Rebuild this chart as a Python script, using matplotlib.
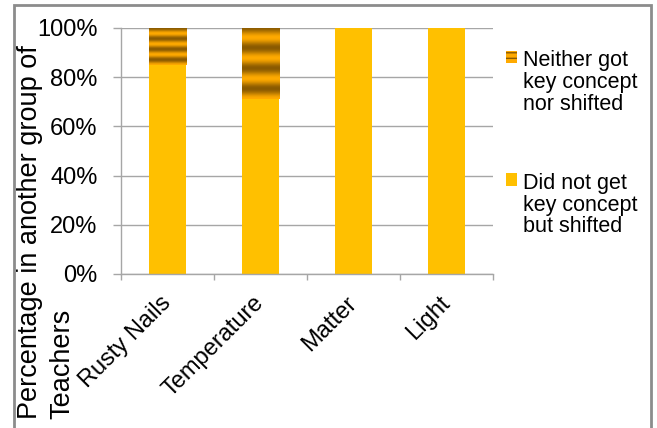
import numpy as np
import matplotlib
matplotlib.use('Agg')
import matplotlib.pyplot as plt
from matplotlib.patches import Patch, Rectangle
from matplotlib.colors import LinearSegmentedColormap
from matplotlib.legend_handler import HandlerPatch

# data (percent of teachers)
topics = ['Rusty Nails', 'Temperature', 'Matter', 'Light']
shifted = [85, 71, 100, 100]        # Did not get key concept but shifted
neither = [15, 29, 0, 0]            # Neither got key concept nor shifted
yticks = [0, 20, 40, 60, 80, 100]
seriesNames = ['Neither got\nkey concept\nnor shifted', 'Did not get\nkey concept\nbut shifted']
ylabelLines = ['Percentage in another group of', 'Teachers']

YELLOW = '#FFC000'
DARK = '#8A5A00'
ORANGE = '#FFAA00'
GREY = '#A6A6A6'
FONT = 17

plt.rcParams['font.family'] = ['Liberation Sans', 'DejaVu Sans']


def stripeFill(ax, rects, cycles=3.5):
    """ Paint the banded brown/orange gradient inside each bar rectangle """
    cmap = LinearSegmentedColormap.from_list('band', [ORANGE, DARK])
    t = np.linspace(0, 1, 200)
    band = (0.5 + 0.5 * np.cos(2 * np.pi * cycles * t))[:, None]
    for r in rects:
        if r.get_height() <= 0:
            continue
        x0, y0 = r.get_x(), r.get_y()
        im = ax.imshow(band, cmap=cmap, vmin=0, vmax=1, aspect='auto',
                       extent=(x0, x0 + r.get_width(), y0, y0 + r.get_height()),
                       origin='upper', interpolation='bilinear', zorder=3)
        im.set_clip_path(r)


class TopHandler(HandlerPatch):
    # put the legend square next to the first line of a 3 line label
    def __init__(self, shift, **kw):
        super().__init__(**kw)
        self.shift = shift

    def create_artists(self, legend, orig_handle, xdescent, ydescent,
                       width, height, fontsize, trans):
        p = Rectangle((-xdescent, -ydescent + self.shift * fontsize), width, height)
        self.update_prop(p, orig_handle, legend)
        p.set_transform(trans)
        return [p]


fig = plt.figure(figsize=(6.57, 4.28), dpi=100)
W, H = 657, 428
ax = fig.add_axes([121 / W, 1 - 274 / H, (493 - 121) / W, (274 - 28) / H])

x = np.arange(len(topics))
bars1 = ax.bar(x, shifted, width=0.4, color=YELLOW, zorder=2)
bars2 = ax.bar(x, neither, width=0.4, bottom=shifted, color=ORANGE, zorder=2)
stripeFill(ax, bars2)

ax.set_xlim(-0.5, len(topics) - 0.5)
ax.set_ylim(0, 100)
ax.set_yticks(yticks)
ax.set_yticklabels(['%d%%' % v for v in yticks], fontsize=FONT)
ax.set_xticks(x)
ax.set_xticklabels([])
# category names, slanted, ending just right of each bar centre
for xi, name in zip(x, topics):
    ax.annotate(name, xy=(xi, 0), xycoords=('data', 'axes fraction'),
                xytext=(-5.5, -13), textcoords='offset points', fontsize=FONT,
                rotation=45, ha='right', va='top', rotation_mode='anchor')
ax.set_xticks(np.arange(len(topics) + 1) - 0.5, minor=True)
ax.tick_params(axis='x', which='major', length=0)
ax.tick_params(axis='x', which='minor', length=4, color=GREY, width=1)
ax.tick_params(axis='y', length=6, color=GREY, width=1, pad=11)

ax.grid(axis='y', color=GREY, lw=1, zorder=0)
ax.set_axisbelow(True)
for s in ['top', 'right']:
    ax.spines[s].set_visible(False)
for s in ['left', 'bottom']:
    ax.spines[s].set_color(GREY)
    ax.spines[s].set_linewidth(1)

# y label, two lines, both starting from the bottom
for xpx, line in zip([17, 49], ylabelLines):
    fig.text(xpx / W, 1 - 419 / H, line, rotation=90, rotation_mode='anchor',
             ha='left', va='top', fontsize=19.5)

handles = [Patch(facecolor=ORANGE, edgecolor=DARK, hatch='---', lw=0),
           Patch(facecolor=YELLOW, lw=0)]
leg = ax.legend(handles, seriesNames, loc='upper left',
                bbox_to_anchor=(506 / W, 1 - 50 / H), bbox_transform=fig.transFigure,
                frameon=False, fontsize=15.5, handlelength=0.5,
                handleheight=0.5, handletextpad=0.3, labelspacing=2.7,
                borderpad=0, borderaxespad=0,
                handler_map={Patch: TopHandler(1.2)})
for t in leg.get_texts():
    t.set_linespacing(1.05)

# grey frame round the chart (bottom edge falls off the picture)
fig.patches.append(Rectangle((14 / W, -0.05), (651 - 14) / W, 1.05 - 5 / H,
                             transform=fig.transFigure, fill=False,
                             edgecolor='#8C8C8C', lw=2))

fig.savefig('out.png', dpi=100)
